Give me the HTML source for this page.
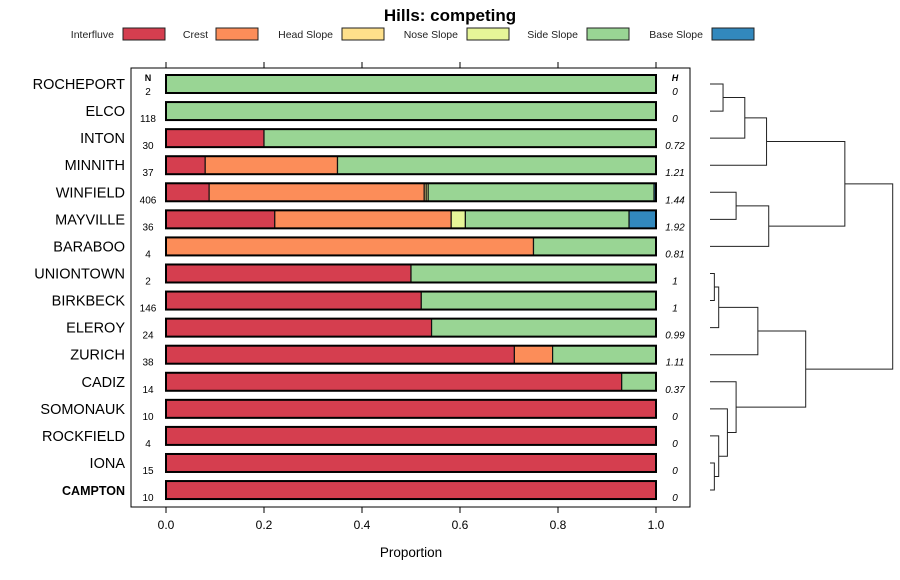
<!DOCTYPE html>
<html><head><meta charset="utf-8"><style>
body{margin:0;background:#fff;}
svg{display:block;font-family:"Liberation Sans",sans-serif;}
</style></head><body>
<svg id="chart" width="900" height="580" viewBox="0 0 900 580"></svg>
<script>
const categories=["ROCHEPORT","ELCO","INTON","MINNITH","WINFIELD","MAYVILLE","BARABOO","UNIONTOWN","BIRKBECK","ELEROY","ZURICH","CADIZ","SOMONAUK","ROCKFIELD","IONA","CAMPTON"];
const seriesNames=["Interfluve","Crest","Head Slope","Nose Slope","Side Slope","Base Slope"];
const interfluve=[0,0,0.2,0.08,0.088,0.222,0,0.5,0.521,0.542,0.711,0.93,1,1,1,1];
const crest=[0,0,0,0.27,0.439,0.36,0.75,0,0,0,0.078,0,0,0,0,0];
const headSlope=[0,0,0,0,0.004,0,0,0,0,0,0,0,0,0,0,0];
const noseSlope=[0,0,0,0,0.004,0.029,0,0,0,0,0,0,0,0,0,0];
const sideSlope=[1,1,0.8,0.65,0.461,0.334,0.25,0.5,0.479,0.458,0.211,0.07,0,0,0,0];
const baseSlope=[0,0,0,0,0.004,0.055,0,0,0,0,0,0,0,0,0,0];
const nValues=[2,118,30,37,406,36,4,2,146,24,38,14,10,4,15,10];
const hValues=["0","0","0.72","1.21","1.44","1.92","0.81","1","1","0.99","1.11","0.37","0","0","0","0"];
const xTicks=[0,0.2,0.4,0.6,0.8,1.0];
const xTickLabels=["0.0","0.2","0.4","0.6","0.8","1.0"];
// dendrogram merges: [left, right, height]; leaves 0..15, merges 16+
const merges=[[0,1,0.03],[16,2,0.08],[17,3,0.13],[4,5,0.06],[19,6,0.135],[18,20,0.31],[7,8,0.01],[22,9,0.02],[23,10,0.11],[14,15,0.01],[13,25,0.02],[12,26,0.04],[11,27,0.06],[24,28,0.22],[21,29,0.42]];
const colors=["#D53E4F","#FC8D59","#FEE08B","#E6F598","#99D594","#3288BD"];
const S=[interfluve,crest,headSlope,noseSlope,sideSlope,baseSlope];
const svg=document.getElementById('chart');
const NS="http://www.w3.org/2000/svg";
function el(t,a,p){const e=document.createElementNS(NS,t);for(const k in a)e.setAttribute(k,a[k]);(p||svg).appendChild(e);return e;}
const x=v=>166+v*490;
const y=i=>84+i*27.07;
let e;
e=el('text',{x:450,y:21,'text-anchor':'middle','font-size':17,'font-weight':'bold'});e.textContent="Hills: competing";


const lbx=[114,208,333,458,578,703],bx=[123,216,342,467,587,712];
seriesNames.forEach((n,k)=>{
 const t=el('text',{x:lbx[k],y:38,'text-anchor':'end','font-size':10.5,fill:'#222'});t.textContent=n;
 
 
 const r=el('rect',{x:bx[k],y:28,width:42,height:12,fill:colors[k],stroke:'#222','stroke-width':1});
 
 
});
e=el('rect',{x:131,y:68,width:559,height:439,fill:'none',stroke:'#000','stroke-width':1});


xTicks.forEach((v,k)=>{
 el('line',{x1:x(v),x2:x(v),y1:62,y2:68,stroke:'#000'});
 el('line',{x1:x(v),x2:x(v),y1:507,y2:513,stroke:'#000'});
 const t=el('text',{x:x(v),y:529,'text-anchor':'middle','font-size':12});t.textContent=xTickLabels[k];
 
 
});
e=el('text',{x:411,y:557,'text-anchor':'middle','font-size':13.5});e.textContent="Proportion";


e=el('text',{x:148,y:81,'text-anchor':'middle','font-size':9,'font-weight':'bold'});e.textContent="N";


e=el('text',{x:675,y:81,'text-anchor':'middle','font-size':9,'font-weight':'bold','font-style':'italic'});e.textContent="H";


categories.forEach((c,i)=>{
 const cy=y(i);
 const bold=c==='CAMPTON';
 const t=el('text',{x:125,y:cy+5,'text-anchor':'end','font-size':bold?12.5:14.5,'font-weight':bold?'bold':'normal'});t.textContent=c;
 
 
 const n=el('text',{x:148,y:cy+11,'text-anchor':'middle','font-size':10});n.textContent=nValues[i];
 
 
 const h=el('text',{x:675,y:cy+11,'text-anchor':'middle','font-size':10,'font-style':'italic'});h.textContent=hValues[i];
 
 
 let acc=0;
 S.forEach((s,k)=>{
  if(s[i]>0){
   const r=el('rect',{x:x(acc),y:cy-9,width:x(acc+s[i])-x(acc),height:18,fill:colors[k],stroke:'#111','stroke-width':1.2});
   
   
  }
  acc+=s[i];
 });
 const o=el('rect',{x:x(0),y:cy-9,width:490,height:18,fill:'none',stroke:'#000','stroke-width':2});
 
 
});
// dendrogram
const dx=h=>710+h*435;
const pos=[];for(let i=0;i<16;i++)pos.push({x:710,y:y(i)});
merges.forEach(m=>{
 const a=pos[m[0]],b=pos[m[1]],hx=dx(m[2]);
 const p=el('path',{d:`M${a.x},${a.y}H${hx}V${b.y}H${b.x}`,fill:'none',stroke:'#222','stroke-width':1});
 
 
 pos.push({x:hx,y:(a.y+b.y)/2});
});
</script>
</body></html>
